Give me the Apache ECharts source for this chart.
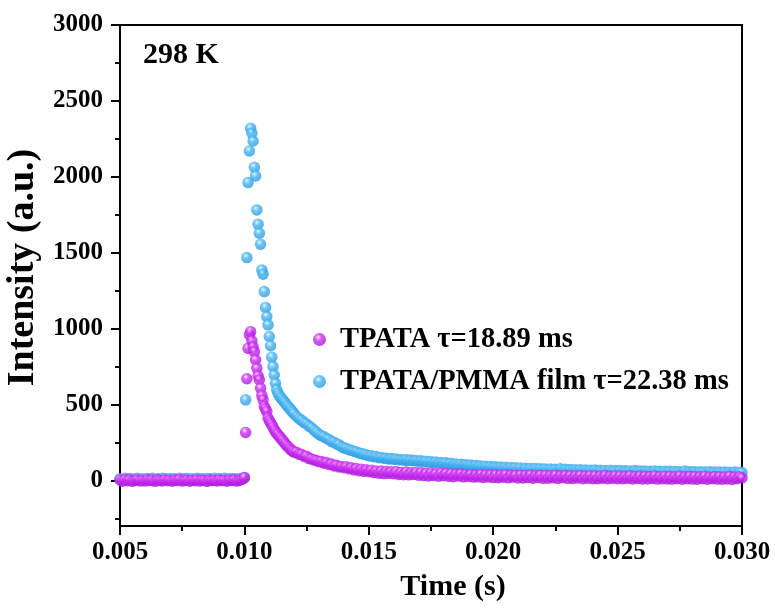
<!DOCTYPE html>
<html>
<head>
<meta charset="utf-8">
<script src="https://cdn.jsdelivr.net/npm/echarts@6/dist/echarts.min.js"></script>
<style>
html,body{margin:0;padding:0;background:#fff;}
#c{width:775px;height:608px;}
</style>
</head>
<body>
<div id="c"></div>
<script>
// ---- data ----
const seriesNames = ['TPATA τ=18.89 ms', 'TPATA/PMMA film τ=22.38 ms'];
const xTickLabels = ['0.005', '0.010', '0.015', '0.020', '0.025', '0.030'];
const yTickValues = [0, 500, 1000, 1500, 2000, 2500, 3000];
const yMinorTickValues = [-250, 250, 750, 1250, 1750, 2250, 2750];

// sampling segments (s)
const baseStart = 0.005, baseStep = 0.0001;
const peakStart = 0.0100, peakStep = 0.00005;
const tailStart = 0.0121, tailStep = 0.0001;

// TPATA (magenta)
const tpataBase = [3,-5,6,-2,4,-6,2,5,-3,1, -4,6,-1,3,-6,4,0,-3,5,-2, 2,-5,4,-1,6,-4,1,3,-5,2, -2,5,-4,3,0,-6,4,-1,2,-3, 5,-2,1,-5,3,-1,4,-4,2,6];
const tpataPeak = [20,316,670,870,960, 980,920,880,849,795, 740,690,663,608,560, 531,487,470,454,411, 395,380,367,350,334, 322,310,301,290,282, 270,262,250,240,230, 222,214,206,198,192, 186];
const tpataTail = [
 186,172,171,158,160,144,142,135,131,124,
 125,114,118,105,108,96,100,89,92,84,
 90,77,83,70,78,64,74,60,70,58,
 68,52,63,48,62,45,59,47,58,44,
 57,40,53,38,55,37,51,39,52,35,
 50,32,47,30,49,33,44,28,46,31,
 45,28,43,25,41,29,44,24,40,27,
 40,22,38,24,41,20,36,23,37,19,
 37,18,35,21,38,17,34,22,33,16,
 35,16,33,19,36,15,31,20,34,14,
 33,15,31,17,35,13,30,18,32,14,
 31,13,30,16,33,12,29,15,31,12,
 30,12,28,15,32,11,27,14,30,11,
 29,11,27,14,31,10,26,13,29,10,
 28,10,26,13,30,9,25,12,28,10,
 27,9,25,12,29,8,24,12,27,9,
 26,8,24,11,28,8,23,11,26,9,
 25,8,23,10,27,7,22,11,25,16
];

// TPATA/PMMA film (blue)
const filmBase = [12,8,14,10,13,7,11,15,9,12, 8,13,10,14,7,12,9,15,11,8, 13,10,12,7,14,9,11,13,8,12, 10,14,9,12,8,13,11,7,15,10, 12,9,14,8,11,13,10,12,9,14];
const filmPeak = [18,531,1468,1962,2170, 2320,2287,2236,2063,2006, 1782,1688,1629,1556,1387, 1359,1244,1140,1080,1025, 948,887,812,750,695, 640,597,575,560,548, 538,528,518,508,497, 487,478,468,458,448, 438];
const filmTail = [
 421,407,396,381,372,358,347,331,318,303,
 294,288,276,270,256,252,240,236,222,215,
 210,202,199,192,188,181,178,172,168,163,
 162,156,158,150,151,146,147,141,144,139,
 141,136,138,133,137,131,134,129,132,127,
 129,124,127,121,124,118,122,116,119,114,
 116,110,113,107,109,104,107,101,104,99,
 101,96,99,93,96,90,94,88,92,87,
 90,85,88,83,87,81,86,80,84,79,
 82,77,80,75,79,74,78,73,77,73,
 76,71,75,70,74,69,77,70,73,69,
 72,67,71,66,70,65,69,66,68,65,
 69,64,67,63,66,62,68,63,65,62,
 66,61,64,60,63,59,65,60,62,59,
 62,58,61,57,63,58,60,56,61,57,
 60,55,59,56,58,54,62,56,57,55,
 58,53,57,54,56,52,57,53,55,53,
 56,51,55,52,54,50,55,51,54,52
];

// ---- build ----
function seg(start, step, vals) {
  return vals.map((v, i) => [+(start + i * step).toFixed(6), v]);
}
function build(base, peak, tail) {
  return seg(baseStart, baseStep, base).concat(seg(peakStart, peakStep, peak), seg(tailStart, tailStep, tail));
}
const tpataData = build(tpataBase, tpataPeak, tpataTail);
const filmData = build(filmBase, filmPeak, filmTail);

const FONT = "'Liberation Serif', 'Times New Roman', serif";

function ball(light, base, dark) {
  return new echarts.graphic.RadialGradient(0.4, 0.33, 0.68, [
    { offset: 0, color: '#ffffff' },
    { offset: 0.12, color: light },
    { offset: 0.4, color: base },
    { offset: 1, color: dark }
  ]);
}

const chart = echarts.init(document.getElementById('c'), null, { renderer: 'canvas' });
chart.setOption({
  animation: false,
  backgroundColor: '#ffffff',
  grid: { left: 120, right: 33, top: 25, bottom: 82, show: true, borderColor: '#000', borderWidth: 2, backgroundColor: 'transparent', containLabel: false, outerBoundsMode: 'none' },
  legend: {
    data: seriesNames,
    orient: 'vertical',
    left: 308,
    top: 320,
    itemWidth: 13,
    itemHeight: 13,
    itemGap: 13,
    icon: 'circle',
    textStyle: { fontFamily: FONT, fontWeight: 'bold', fontSize: 28.5, color: '#000', padding: [0, 0, 0, 9], lineHeight: 28 }
  },
  graphic: [
    { type: 'text', left: 143, top: 40, style: { text: '298 K', fontFamily: FONT, fontWeight: 'bold', fontSize: 30, fill: '#000' } }
  ],
  xAxis: {
    type: 'value',
    min: 0.005,
    max: 0.03,
    interval: 0.005,
    name: 'Time (s)',
    nameLocation: 'middle',
    nameGap: 46,
    nameTextStyle: { fontFamily: FONT, fontWeight: 'bold', fontSize: 30, color: '#000', padding: [0, 0, 0, 44] },
    axisLine: { show: true, onZero: false, lineStyle: { color: '#000', width: 2 } },
    axisTick: { show: true, inside: false, length: 9, lineStyle: { color: '#000', width: 2 } },
    minorTick: { show: true, splitNumber: 2, length: 5, lineStyle: { color: '#000', width: 2 } },
    splitLine: { show: false },
    minorSplitLine: { show: false },
    axisLabel: {
      margin: 14,
      fontFamily: FONT, fontWeight: 'bold', fontSize: 25, color: '#000',
      formatter: function (v) { const s = v.toFixed(3); return xTickLabels.indexOf(s) >= 0 ? s : ''; }
    }
  },
  yAxis: [
    {
      type: 'value',
      min: -300,
      max: 3000,
      name: 'Intensity (a.u.)',
      nameLocation: 'middle',
      nameGap: 69,
      nameTextStyle: { fontFamily: FONT, fontWeight: 'bold', fontSize: 38, color: '#000', padding: [0, 0, 0, 16] },
      axisLine: { show: true, onZero: false, lineStyle: { color: '#000', width: 2 } },
      axisTick: { show: true, inside: false, length: 9, customValues: yTickValues, lineStyle: { color: '#000', width: 2 } },
      splitLine: { show: false },
      axisLabel: { customValues: yTickValues, margin: 17, fontFamily: FONT, fontWeight: 'bold', fontSize: 25, color: '#000', formatter: function (v) { return String(v); } }
    },
    {
      type: 'value',
      min: -300,
      max: 3000,
      position: 'left',
      axisLine: { show: false },
      axisTick: { show: true, inside: false, length: 5, customValues: yMinorTickValues, lineStyle: { color: '#000', width: 2 } },
      splitLine: { show: false },
      axisLabel: { show: false }
    }
  ],
  series: [
    {
      name: seriesNames[1],
      type: 'scatter',
      data: filmData,
      symbol: 'circle',
      symbolSize: 11.5,
      itemStyle: { color: ball('#a6dcfb', '#48b4f2', '#2a98dc') },
      z: 2
    },
    {
      name: seriesNames[0],
      type: 'scatter',
      data: tpataData,
      symbol: 'circle',
      symbolSize: 11.5,
      itemStyle: { color: ball('#eaa0fb', '#cc2ff2', '#a819d4') },
      z: 3
    }
  ]
});
</script>
</body>
</html>
